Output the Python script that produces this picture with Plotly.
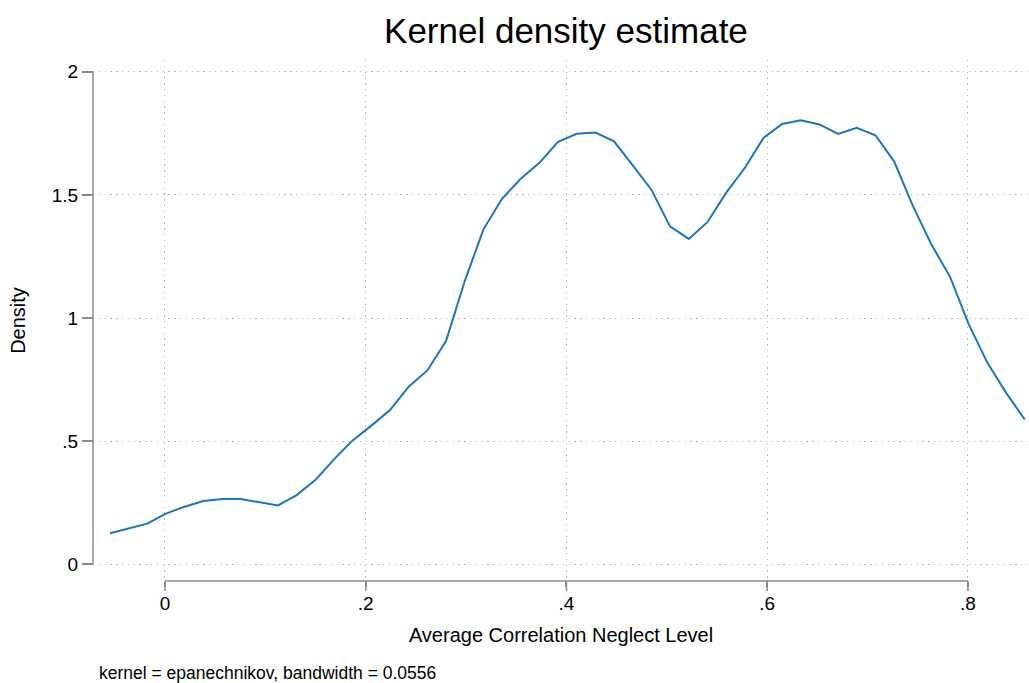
import plotly.graph_objects as go

# Kernel density evaluation grid (50 points) and estimated density
grid_x = [
    -0.0548, -0.0362, -0.0176, 0.0010, 0.0196, 0.0382, 0.0568, 0.0754, 0.0940, 0.1126,
    0.1312, 0.1498, 0.1684, 0.1870, 0.2056, 0.2242, 0.2428, 0.2614, 0.2800, 0.2986,
    0.3172, 0.3358, 0.3544, 0.3730, 0.3916, 0.4102, 0.4288, 0.4474, 0.4660, 0.4846,
    0.5032, 0.5218, 0.5404, 0.5590, 0.5776, 0.5962, 0.6148, 0.6334, 0.6520, 0.6706,
    0.6892, 0.7078, 0.7264, 0.7450, 0.7636, 0.7822, 0.8008, 0.8194, 0.8380, 0.8566,
]
density = [
    0.126, 0.145, 0.165, 0.206, 0.234, 0.257, 0.265, 0.265, 0.252, 0.239,
    0.281, 0.342, 0.426, 0.503, 0.563, 0.626, 0.721, 0.787, 0.906, 1.149,
    1.359, 1.484, 1.565, 1.630, 1.715, 1.748, 1.753, 1.717, 1.620, 1.521,
    1.372, 1.321, 1.389, 1.508, 1.609, 1.731, 1.788, 1.803, 1.786, 1.747,
    1.772, 1.742, 1.636, 1.456, 1.298, 1.167, 0.974, 0.818, 0.696, 0.588,
]

x_ticks = [0, 0.2, 0.4, 0.6, 0.8]
x_tick_labels = ["0", ".2", ".4", ".6", ".8"]
y_ticks = [0, 0.5, 1, 1.5, 2]
y_tick_labels = ["0", ".5", "1", "1.5", "2"]

FONT = "Liberation Sans, Arial, Helvetica, sans-serif"
AXIS_GRAY = "#8a8a8a"
GRID_GRAY = "#b8b8b8"
GRID_DASH = "1.3px,4.5px"
TICK_PX = 10

fig = go.Figure()
fig.add_trace(go.Scatter(
    x=grid_x, y=density, mode="lines",
    line=dict(color="#1a77bf", width=2),
    showlegend=False, hoverinfo="skip",
))

# Axis lines spanning only the labelled range
fig.add_shape(type="line", xref="x", yref="paper",
              x0=x_ticks[0], x1=x_ticks[-1], y0=0, y1=0,
              line=dict(color=AXIS_GRAY, width=1.5))
fig.add_shape(type="line", xref="paper", yref="y",
              x0=0, x1=0, y0=y_ticks[0], y1=y_ticks[-1],
              line=dict(color=AXIS_GRAY, width=1.5))

# Full-length outward tick marks (labels sit closer than plotly's default)
for xv in x_ticks:
    fig.add_shape(type="line", xref="x", yref="paper",
                  ysizemode="pixel", yanchor=0, x0=xv, x1=xv, y0=0, y1=-TICK_PX,
                  line=dict(color=AXIS_GRAY, width=1.5))
for yv in y_ticks:
    fig.add_shape(type="line", xref="paper", yref="y",
                  xsizemode="pixel", xanchor=0, x0=0, x1=-TICK_PX, y0=yv, y1=yv,
                  line=dict(color=AXIS_GRAY, width=1.5))

fig.update_layout(
    width=1029, height=683,
    margin=dict(l=93, r=0, t=60, b=102),
    paper_bgcolor="white", plot_bgcolor="white",
    font=dict(family=FONT, size=20, color="black"),
    title=dict(text="Kernel density estimate", x=0.55, xanchor="center",
               y=0.955, yanchor="middle",
               font=dict(family=FONT, size=35, color="black")),
    xaxis=dict(
        range=[-0.0717, 0.8608],
        tickvals=x_ticks, ticktext=x_tick_labels,
        ticks="outside", ticklen=5, tickwidth=1.5, tickcolor=AXIS_GRAY,
        showline=False, zeroline=False,
        showgrid=True, gridcolor=GRID_GRAY, griddash=GRID_DASH, gridwidth=1,
        tickfont=dict(size=19),
        title=dict(text="Average Correlation Neglect Level", standoff=15,
                   font=dict(size=20)),
    ),
    yaxis=dict(
        range=[-0.0678, 2.0475],
        tickvals=y_ticks, ticktext=y_tick_labels,
        ticks="outside", ticklen=TICK_PX, tickwidth=1.5, tickcolor=AXIS_GRAY,
        showline=False, zeroline=False,
        showgrid=True, gridcolor=GRID_GRAY, griddash=GRID_DASH, gridwidth=1,
        tickfont=dict(size=19),
        title=dict(text="Density", standoff=20, font=dict(size=20)),
    ),
    annotations=[dict(
        text="kernel = epanechnikov, bandwidth = 0.0556",
        xref="paper", yref="paper", x=0.004, y=-0.177,
        xanchor="left", yanchor="middle", showarrow=False,
        font=dict(family=FONT, size=17.5, color="black"),
    )],
)

fig.write_html("out.html")
